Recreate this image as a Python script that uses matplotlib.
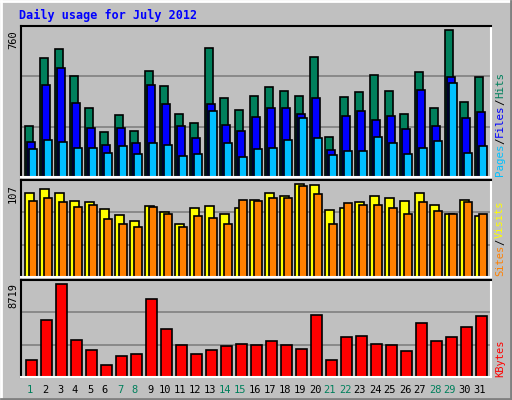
import numpy as np
import matplotlib.pyplot as plt

days = np.arange(1, 32)
hits = [257, 601, 646, 510, 349, 228, 314, 233, 535, 460, 319, 274, 651, 399, 339, 409,
        455, 435, 409, 606, 203, 404, 430, 515, 435, 319, 530, 349, 742, 379, 505]
files = [178, 465, 550, 374, 248, 163, 248, 173, 465, 369, 258, 198, 369, 263, 233, 304,
         349, 349, 319, 399, 138, 309, 334, 289, 309, 243, 440, 255, 505, 299, 329]
pages = [143, 188, 178, 148, 148, 122, 158, 117, 173, 163, 107, 117, 334, 173, 102, 143,
         148, 188, 299, 198, 112, 133, 133, 203, 173, 117, 148, 183, 475, 122, 158]
visits = [92.5, 97, 92.5, 83.6, 82.5, 74.7, 68, 61.3, 78, 71.3, 59, 75.8, 78, 69, 75.8, 84.7,
          92.5, 89, 102.5, 101.4, 73.6, 75.8, 82.5, 89, 87, 83.6, 92.5, 79, 69, 84.7, 66.9]
sites = [83.6, 87, 82.5, 77, 79, 63.5, 58, 55.7, 77, 69, 55.7, 66.9, 64.6, 58, 84.7, 83.6,
         87, 87, 100.3, 91.4, 58, 81.4, 79, 79, 75.8, 69, 82.5, 72.4, 69, 82.5, 69]
kbytes = [1534, 5112, 8360, 3308, 2406, 1052, 1864, 2045, 7006, 4300, 2857, 2045, 2406, 2766,
          2947, 2857, 3217, 2857, 2496, 5563, 1504, 3578, 3668, 2947, 2857, 2315, 4841, 3217,
          3578, 4480, 5473]
weekend = [1, 7, 8, 14, 15, 21, 22, 28, 29]

W, H = 512, 400
BG = '#C0C0C0'
MONO = 'DejaVu Sans Mono'

fig = plt.figure(figsize=(W / 100, H / 100), dpi=100, facecolor=BG)

def px_axes(x0, y0, x1, y1):
    return fig.add_axes([x0 / W, 1 - y1 / H, (x1 - x0) / W, (y1 - y0) / H])

# outer 3D border
bord = fig.add_axes([0, 0, 1, 1])
bord.set_axis_off()
bord.set_xlim(0, W)
bord.set_ylim(H, 0)
bord.plot([1, W - 1], [1, 1], color='white', lw=2)
bord.plot([1, 1], [1, H - 1], color='white', lw=2)
bord.plot([W - 1, W - 1], [1, H - 1], color='#808080', lw=2)
bord.plot([1, W - 1], [H - 1, H - 1], color='#808080', lw=2)

x0 = 1 - 4 / 15
xlim = (x0, x0 + 470 / 15)

def panel(y0, y1, vmax):
    ax = px_axes(21, y0, 491, y1)
    ax.set_facecolor(BG)
    ax.set_xlim(*xlim)
    ax.set_ylim(0, vmax)
    for g in (vmax / 3, 2 * vmax / 3):
        ax.axhline(g, color='#808080', lw=1.2, zorder=0)
    ax.set_xticks([])
    ax.set_yticks([])
    for s in ('top', 'left'):
        ax.spines[s].set_color('black')
        ax.spines[s].set_linewidth(1.5)
    for s in ('bottom', 'right'):
        ax.spines[s].set_color('white')
        ax.spines[s].set_linewidth(1.5)
    return ax

def bars(ax, vals, off, width, color):
    ax.bar(days + off, vals, width=width, align='edge', color=color,
           edgecolor='black', linewidth=1.2, zorder=2)

ax1 = panel(26, 177, 760)
bars(ax1, hits, 0, 7.7 / 15, '#00805C')
bars(ax1, files, 2 / 15, 7.7 / 15, '#0000FF')
bars(ax1, pages, 4 / 15, 7.7 / 15, '#00C0FF')

ax2 = panel(180, 277, 107)
bars(ax2, visits, 0, 8.7 / 15, '#FFFF00')
bars(ax2, sites, 3.7 / 15, 8.3 / 15, '#FF8000')

ax3 = panel(280, 377, 8719)
bars(ax3, kbytes, 1 / 15, 10.7 / 15, '#FF0000')

fig.text(19 / W, 1 - 15 / H, 'Daily usage for July 2012', color='#0000FF',
         family=MONO, weight='bold', fontsize=8.5, va='center')

for lab, yc in (('760', 40), ('107', 194), ('8719', 296)):
    fig.text(13 / W, 1 - yc / H, lab, rotation=90, family=MONO, fontsize=7.5,
             ha='center', va='center')

for d in days:
    xc = 21 + (d - x0) * 15 + 5
    fig.text(xc / W, 1 - 390 / H, str(d), family=MONO, fontsize=7.5,
             color='#00805C' if d in weekend else 'black', ha='center', va='center')

renderer = fig.canvas.get_renderer()

def right_label(parts, ybot, size=7.5):
    y = ybot
    for txt, col in parts:
        t = fig.text(500 / W, 1 - y / H, txt, rotation=90, family=MONO, fontsize=size,
                     color=col, ha='center', va='bottom')
        y -= t.get_window_extent(renderer).height

right_label([('Pages', '#00C0FF'), ('/', '#000000'), ('Files', '#0000FF'),
             ('/', '#000000'), ('Hits', '#00805C')], 176, 7.8)
right_label([('Sites', '#FF8000'), ('/', '#000000'), ('Visits', '#FFFF00')], 276, 7.5)
right_label([('KBytes', '#FF0000')], 377, 7.5)

fig.savefig('out.png', dpi=100, facecolor=BG)
